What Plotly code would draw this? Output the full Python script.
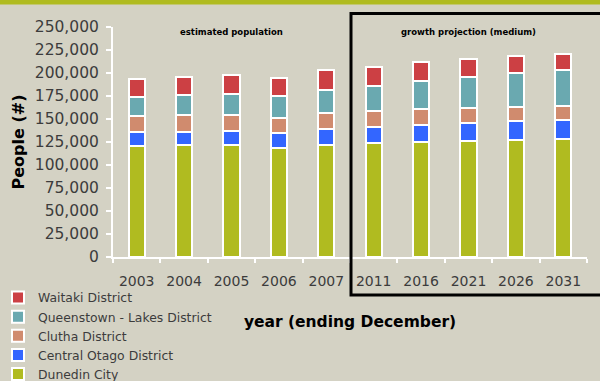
import plotly.graph_objects as go

years = ["2003", "2004", "2005", "2006", "2007", "2011", "2016", "2021", "2026", "2031"]
dunedin = [120800, 121500, 121900, 118600, 121900, 123700, 125100, 126600, 127600, 128400]
central_otago = [15000, 14800, 15500, 16300, 17100, 17800, 18500, 19200, 20100, 20100]
clutha = [17100, 17700, 17100, 16700, 17700, 17400, 17100, 16700, 15800, 15600]
queenstown = [21000, 22300, 22900, 23300, 25300, 27200, 30500, 33400, 36700, 39200]
waitaki = [20000, 19800, 20400, 20100, 20900, 20400, 20400, 19800, 18300, 17800]

series = [
    ("Dunedin City", dunedin, "#b0bb20"),
    ("Central Otago District", central_otago, "#3366ff"),
    ("Clutha District", clutha, "#d08b6e"),
    ("Queenstown - Lakes District", queenstown, "#6aa9b0"),
    ("Waitaki District", waitaki, "#cc4044"),
]

BG = "#d4d2c4"
TXT = "#3c3c3c"
FONT = "DejaVu Sans"

# plot area in pixels
L, R, T, B = 113, 587, 27, 257
PW, PH = R - L, B - T


def px_x(px):
    return (px - L) / PW


def px_y(py):
    return (B - py) / PH


fig = go.Figure()
for name, vals, col in series:
    fig.add_trace(go.Bar(
        x=years, y=vals, name=name, width=0.34,
        marker=dict(color=col, line=dict(color="white", width=2)),
    ))

fig.update_layout(
    width=600, height=381,
    barmode="stack",
    paper_bgcolor=BG, plot_bgcolor=BG,
    margin=dict(l=L, r=600 - R, t=T, b=381 - B, autoexpand=False),
    font=dict(family=FONT, color=TXT),
    showlegend=True,
    legend=dict(
        traceorder="reversed",
        x=px_x(-2), xanchor="left", y=px_y(283), yanchor="top",
        bgcolor="rgba(0,0,0,0)",
        font=dict(family=FONT, size=12.4, color=TXT),
        itemwidth=30,
    ),
    xaxis=dict(
        type="category",
        showline=True, linecolor="white", linewidth=2,
        ticks="outside", tickson="boundaries", ticklen=4, tickwidth=2, tickcolor="white",
        showgrid=False, zeroline=False,
        tickfont=dict(family=FONT, size=14, color=TXT),
        ticklabelstandoff=10,
        title=dict(text="<b>year (ending December)</b>", standoff=28,
                   font=dict(family=FONT, size=15.5, color="#000000")),
    ),
    yaxis=dict(
        range=[0, 250000], tickvals=list(range(0, 250001, 25000)), tickformat=",",
        showline=True, linecolor="white", linewidth=2,
        ticks="outside", ticklen=5, tickwidth=2, tickcolor="white",
        showgrid=False, zeroline=False,
        tickfont=dict(family=FONT, size=15.5, color=TXT),
        ticklabelstandoff=4,
        title=dict(text="<b>People (#)</b>", standoff=6,
                   font=dict(family=FONT, size=16, color="#000000")),
    ),
    shapes=[
        dict(type="rect", xref="paper", yref="paper", x0=px_x(-10), x1=px_x(610),
             y0=px_y(4.5), y1=px_y(-2), fillcolor="#b0bb20", line=dict(width=0)),
        dict(type="rect", xref="paper", yref="paper", x0=px_x(351), x1=px_x(603),
             y0=px_y(295), y1=px_y(13.5), fillcolor="rgba(0,0,0,0)",
             line=dict(color="black", width=3)),
    ],
    annotations=[
        dict(text="<b>estimated population</b>", x=2, xref="x",
             y=px_y(25), yref="paper", showarrow=False,
             font=dict(family=FONT, size=8.5, color="#000000")),
        dict(text="<b>growth projection (medium)</b>", x=7, xref="x",
             y=px_y(25), yref="paper", showarrow=False,
             font=dict(family=FONT, size=8.5, color="#000000")),
    ],
)

fig.write_html(
    "out.html",
    config={"displayModeBar": False},
    post_script="document.body.style.margin='0';document.body.style.padding='0';",
)
